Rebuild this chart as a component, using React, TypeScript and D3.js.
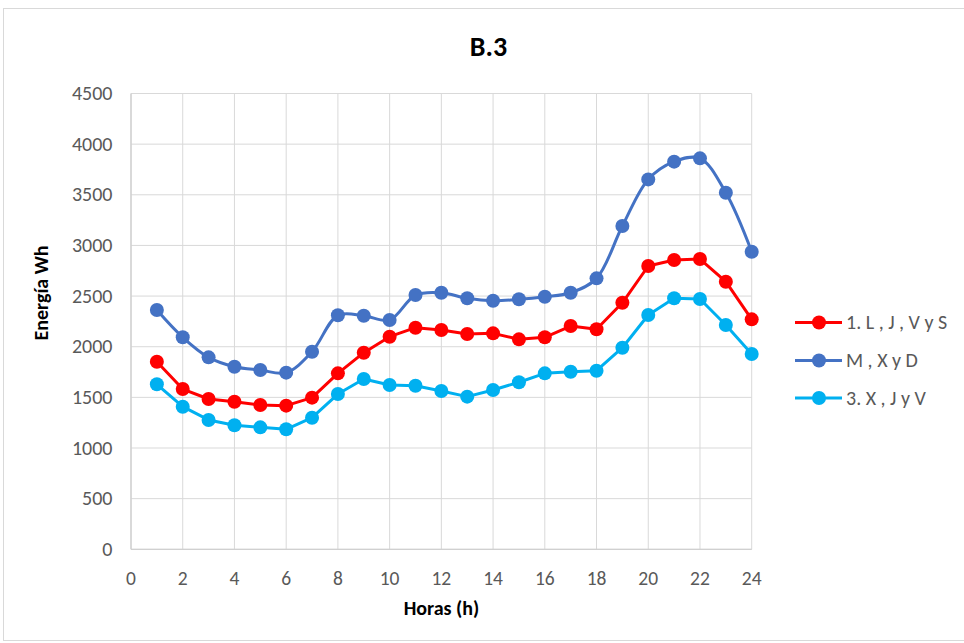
import React from "react";
import * as d3 from "d3";

const hours = [1,2,3,4,5,6,7,8,9,10,11,12,13,14,15,16,17,18,19,20,21,22,23,24];
const serie1 = [1852,1582,1484,1457,1424,1418,1497,1737,1941,2099,2188,2165,2125,2132,2073,2093,2204,2172,2434,2797,2856,2866,2642,2270];
const serie2 = [2362,2093,1895,1803,1770,1744,1951,2310,2306,2264,2510,2533,2478,2454,2468,2494,2533,2675,3192,3652,3827,3860,3520,2938];
const serie3 = [1629,1408,1277,1224,1204,1185,1299,1533,1681,1622,1615,1563,1507,1573,1649,1737,1753,1763,1990,2313,2478,2471,2214,1928];
const seriesNames = ["1. L , J , V y S", "M , X y D", "3. X , J y V"];
const seriesColors = ["#FF0000", "#4472C4", "#00B0F0"];
const seriesSmooth = [false, true, false];
const xTicks = [0,2,4,6,8,10,12,14,16,18,20,22,24];
const yTicks = [0,500,1000,1500,2000,2500,3000,3500,4000,4500];

const W = 964, H = 643;
const L = 131, R = 751.7, T = 93.5, B = 549.3;

export default function App() {
  const x = d3.scaleLinear().domain([0, 24]).range([L, R]);
  const y = d3.scaleLinear().domain([0, 4500]).range([B, T]);
  const all = [serie1, serie2, serie3];
  const font = "Carlito, Calibri, 'Liberation Sans', Arial, sans-serif";
  return (
    <div style={{ position: "fixed", left: 0, top: 0 }}>
      <svg width={W} height={H} style={{ display: "block" }} fontFamily={font}>
        <rect x={0} y={0} width={W} height={H} fill="#fff" />
        <rect x={3.5} y={8.5} width={W + 10} height={H - 11} fill="#fff" stroke="#d9d9d9" />
        {yTicks.map((t) => (
          <line key={"gy" + t} x1={L} x2={R} y1={y(t)} y2={y(t)} stroke="#d9d9d9" strokeWidth={1} />
        ))}
        {xTicks.map((t) => (
          <line key={"gx" + t} x1={x(t)} x2={x(t)} y1={T} y2={B} stroke="#d9d9d9" strokeWidth={1} />
        ))}
        <line x1={L} x2={R} y1={B} y2={B} stroke="#d0d0d0" strokeWidth={1.3} />
        <line x1={L} x2={L} y1={T} y2={B} stroke="#d0d0d0" strokeWidth={1.3} />
        {yTicks.map((t) => (
          <text key={"ty" + t} x={112.5} y={y(t) + 6.5} textAnchor="end" fontSize={20} fill="#595959">{t}</text>
        ))}
        {xTicks.map((t) => (
          <text key={"tx" + t} x={x(t)} y={584.5} textAnchor="middle" fontSize={19.5} fill="#595959">{t}</text>
        ))}
        <text x={488.5} y={56} textAnchor="middle" fontSize={28} fontWeight="bold" fill="#000">B.3</text>
        <text x={441.5} y={615} textAnchor="middle" fontSize={20} fontWeight="bold" fill="#000">Horas (h)</text>
        <text transform={`translate(48,293) rotate(-90)`} textAnchor="middle" fontSize={20} fontWeight="bold" fill="#000">Energía Wh</text>
        {all.map((s, i) => {
          const line = d3.line<number>()
            .x((_, j) => x(hours[j]))
            .y((v) => y(v))
            .curve(seriesSmooth[i] ? d3.curveCatmullRom.alpha(0.5) : d3.curveLinear);
          return (
            <g key={"s" + i}>
              <path d={line(s) || ""} fill="none" stroke={seriesColors[i]} strokeWidth={3} strokeLinejoin="round" />
              {s.map((v, j) => (
                <circle key={j} cx={x(hours[j])} cy={y(v)} r={7} fill={seriesColors[i]} />
              ))}
            </g>
          );
        })}
        {seriesNames.map((n, i) => {
          const ly = [322.5, 360.5, 398][i];
          return (
            <g key={"lg" + i}>
              <line x1={795} x2={842} y1={ly} y2={ly} stroke={seriesColors[i]} strokeWidth={3} />
              <circle cx={819} cy={ly} r={7} fill={seriesColors[i]} />
              <text x={846} y={ly + 6.5} fontSize={20} fill="#595959">{n}</text>
            </g>
          );
        })}
      </svg>
    </div>
  );
}
